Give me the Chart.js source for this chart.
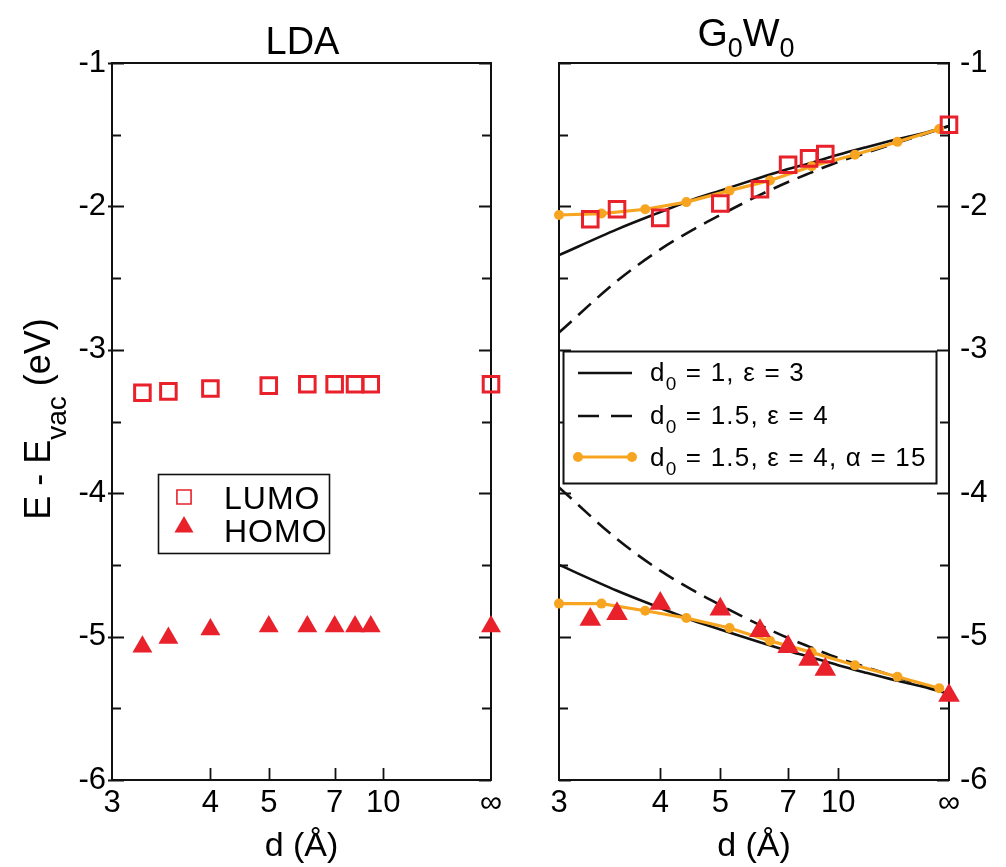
<!DOCTYPE html>
<html>
<head>
<meta charset="utf-8">
<title>LDA vs G0W0 level alignment</title>
<script src="https://cdn.jsdelivr.net/npm/chart.js@4.4.1/dist/chart.umd.min.js"></script>
<style>
  html, body { margin: 0; padding: 0; background: #ffffff; }
  #wrap { position: relative; width: 1006px; height: 867px; overflow: hidden; }
  #lda { position: absolute; left: 0; top: 0; }
  #gw  { position: absolute; left: 530px; top: 0; }
</style>
</head>
<body>
<div id="wrap">
  <canvas id="lda" width="530" height="867"></canvas>
  <canvas id="gw" width="476" height="867"></canvas>
</div>
<script>
// ---- tick positions along d (Å) ----
const tickD = [3, 4, 5, 7, 10, Infinity];
const tickLabels = ['3', '4', '5', '7', '10', '\u221E'];

// ---- computed levels at each separation d ----
const dLayers = [3.25, 3.5, 4, 5, 6, 7, 8, 9, Infinity];
const ldaLumo = [-3.30, -3.29, -3.27, -3.25, -3.24, -3.24, -3.24, -3.24, -3.24];
const ldaHomo = [-5.07, -5.01, -4.95, -4.93, -4.93, -4.93, -4.93, -4.93, -4.93];
const gwLumo  = [-2.09, -2.02, -2.08, -1.98, -1.88, -1.71, -1.665, -1.635, -1.43];
const gwHomo  = [-4.88, -4.84, -4.77, -4.81, -4.96, -5.07, -5.16, -5.23, -5.41];

// ---- image-charge model curves ----
const dModel    = [3, 3.5, 4, 4.5, 5, 6, 7, 8, 10, 13, 20, 40, Infinity];
const solidLumo = [-2.34, -2.16, -2.04, -1.95, -1.89, -1.80, -1.74, -1.70, -1.64, -1.59, -1.535, -1.49, -1.44];
const solidHomo = [-4.50, -4.68, -4.80, -4.89, -4.95, -5.04, -5.10, -5.14, -5.20, -5.25, -5.305, -5.35, -5.40];
const dashLumo  = [-2.88, -2.52, -2.30, -2.16, -2.06, -1.92, -1.83, -1.77, -1.69, -1.63, -1.56, -1.50, -1.44];
const dashHomo  = [-3.96, -4.32, -4.54, -4.68, -4.78, -4.92, -5.01, -5.07, -5.15, -5.21, -5.28, -5.34, -5.40];

// ---- model with polarisability alpha ----
const dAlpha    = [3, 3.35, 3.81, 4.38, 5.2, 6.32, 8.15, 11.7, 20.8, 102];
const alphaLumo = [-2.06, -2.05, -2.02, -1.97, -1.89, -1.82, -1.72, -1.64, -1.55, -1.46];
const alphaHomo = [-4.77, -4.77, -4.82, -4.87, -4.94, -5.03, -5.11, -5.20, -5.28, -5.36];

const FONT = '"Liberation Sans", Arial, Helvetica, sans-serif';
const RED = '#e8212b';
const ORANGE = '#f7a520';
const INK = '#111111';
const DASH = [17, 9];

// horizontal coordinate: inverse-separation axis, 0 at d = 3 Å and 1 at d = ∞
function xOf(d) { return d === Infinity ? 1 : 1 - Math.pow(3 / d, 1.045); }
function pts(ds, vs) { return ds.map((d, i) => ({ x: xOf(d), y: vs[i] })); }

// text with sub-scripted pieces
function richWidth(ctx, parts) {
  let w = 0;
  parts.forEach(p => { ctx.font = p.size + 'px ' + FONT; w += ctx.measureText(p.t).width; });
  return w;
}
function drawRich(ctx, parts, x, y, align) {
  let cx = align === 'center' ? x - richWidth(ctx, parts) / 2 : x;
  ctx.textAlign = 'left';
  ctx.textBaseline = 'alphabetic';
  parts.forEach(p => {
    ctx.font = p.size + 'px ' + FONT;
    ctx.fillText(p.t, cx, y + (p.dy || 0));
    cx += ctx.measureText(p.t).width;
  });
}

// frame around the plot area plus inward ticks
const framePlugin = {
  id: 'frame',
  beforeDatasetsDraw(chart, args, opts) {
    const { ctx, chartArea: a, scales: { x, y } } = chart;
    ctx.save();
    ctx.strokeStyle = INK;
    ctx.lineWidth = 2;
    ctx.strokeRect(a.left, a.top, a.right - a.left, a.bottom - a.top);
    ctx.lineWidth = 1.8;
    ctx.beginPath();
    for (let v = -6; v <= -1; v += 0.5) {
      const py = Math.round(y.getPixelForValue(v)) + 0.5;
      const major = Number.isInteger(v);
      const len = major ? 12 : 9;
      ctx.moveTo(a.left - (opts.outer && major ? 4 : 0), py);
      ctx.lineTo(a.left + len, py);
      ctx.moveTo(a.right, py);
      ctx.lineTo(a.right - len, py);
    }
    tickD.slice(1, -1).forEach(d => {
      const px = Math.round(x.getPixelForValue(xOf(d))) + 0.5;
      ctx.moveTo(px, a.bottom);
      ctx.lineTo(px, a.bottom - 12);
    });
    ctx.stroke();
    ctx.restore();
  }
};

function axes(side, yWidth) {
  return {
    x: {
      type: 'linear', min: 0, max: 1,
      afterBuildTicks: s => { s.ticks = tickD.map(d => ({ value: xOf(d) })); },
      afterFit: s => { s.height = 87; },
      grid: { display: false, drawTicks: false },
      border: { display: false },
      ticks: {
        autoSkip: false, maxRotation: 0, color: '#000', padding: 5,
        font: { family: FONT, size: 31 },
        callback: (v, i) => tickLabels[i]
      },
      title: {
        display: true, text: 'd (\u00C5)', color: '#000',
        font: { family: FONT, size: 34 }, padding: { top: 0, bottom: 0 }
      }
    },
    y: {
      type: 'linear', min: -6, max: -1, position: side,
      afterFit: s => { s.width = yWidth; },
      grid: { display: false, drawTicks: false },
      border: { display: false },
      ticks: {
        stepSize: 1, color: '#000', padding: side === 'left' ? 6 : 11,
        font: { family: FONT, size: 31 }
      }
    }
  };
}

function markerSets(lumo, homo, triR) {
  return [
    {
      label: 'LUMO', data: pts(dLayers, lumo), showLine: false, clip: false,
      pointStyle: 'rect', pointRadius: 11, pointBorderWidth: 3,
      pointBorderColor: RED, pointBackgroundColor: 'rgba(0,0,0,0)'
    },
    {
      label: 'HOMO', data: pts(dLayers, homo), showLine: false, clip: false,
      pointStyle: 'triangle', pointRadius: triR, pointBorderWidth: 0,
      pointBorderColor: RED, pointBackgroundColor: RED
    }
  ];
}

const common = {
  responsive: false,
  animation: false,
  events: [],
  plugins: { legend: { display: false }, tooltip: { enabled: false } }
};

// ---------------- left panel: LDA ----------------
const ldaText = {
  id: 'ldaText',
  afterDraw(chart) {
    const { ctx, chartArea: a } = chart;
    ctx.save();
    ctx.fillStyle = '#000';
    drawRich(ctx, [{ t: 'LDA', size: 38 }], (a.left + a.right) / 2 + 1, 54, 'center');
    // vertical axis label
    ctx.save();
    ctx.translate(50, 419);
    ctx.rotate(-Math.PI / 2);
    drawRich(ctx, [
      { t: 'E - E', size: 36 },
      { t: 'vac', size: 28, dy: 16 },
      { t: ' (eV)', size: 36 }
    ], 0, 0, 'center');
    ctx.restore();
    // legend
    ctx.lineWidth = 1.6;
    ctx.strokeStyle = INK;
    ctx.fillStyle = '#fff';
    ctx.fillRect(158, 474, 171, 79);
    ctx.strokeRect(158.5, 474.5, 171, 79);
    ctx.strokeStyle = RED;
    Chart.helpers.drawPoint(ctx, { pointStyle: 'rect', radius: 10, borderWidth: 3, rotation: 0 }, 184, 497);
    ctx.fillStyle = RED;
    Chart.helpers.drawPoint(ctx, { pointStyle: 'triangle', radius: 11, borderWidth: 0, rotation: 0 }, 184, 527);
    ctx.fillStyle = '#000';
    if ('letterSpacing' in ctx) ctx.letterSpacing = '1px';
    drawRich(ctx, [{ t: 'LUMO', size: 32 }], 224, 509);
    drawRich(ctx, [{ t: 'HOMO', size: 32 }], 224, 542);
    ctx.restore();
  }
};

new Chart(document.getElementById('lda'), {
  type: 'scatter',
  data: { datasets: markerSets(ldaLumo, ldaHomo, 11.5) },
  options: Object.assign({}, common, {
    layout: { padding: { left: 0, top: 63, right: 39, bottom: 0 } },
    scales: axes('left', 112),
    plugins: Object.assign({}, common.plugins, { frame: { outer: true } })
  }),
  plugins: [framePlugin, ldaText]
});

// ---------------- right panel: G0W0 ----------------
const gwText = {
  id: 'gwText',
  afterDatasetsDraw(chart) {
    const ctx = chart.ctx;
    ctx.save();
    // legend box
    ctx.fillStyle = '#fff';
    ctx.fillRect(33, 351, 373, 132);
    ctx.strokeStyle = INK;
    ctx.lineWidth = 2;
    ctx.strokeRect(33.5, 351.5, 373, 132);
    const rows = [373, 416, 457];
    ctx.lineWidth = 2.6;
    ctx.beginPath(); ctx.moveTo(48, rows[0]); ctx.lineTo(102, rows[0]); ctx.stroke();
    ctx.setLineDash([21, 12]);
    ctx.lineDashOffset = 0;
    ctx.beginPath(); ctx.moveTo(48, rows[1]); ctx.lineTo(102, rows[1]); ctx.stroke();
    ctx.setLineDash([]);
    ctx.strokeStyle = ORANGE;
    ctx.lineWidth = 3;
    ctx.beginPath(); ctx.moveTo(48, rows[2]); ctx.lineTo(102, rows[2]); ctx.stroke();
    ctx.fillStyle = ORANGE;
    [48, 102].forEach(px => Chart.helpers.drawPoint(ctx, { pointStyle: 'circle', radius: 5, borderWidth: 0 }, px, rows[2]));
    ctx.fillStyle = '#000';
    if ('letterSpacing' in ctx) ctx.letterSpacing = '1.2px';
    const sub = { t: '0', size: 19, dy: 9 };
    drawRich(ctx, [{ t: 'd', size: 26 }, sub, { t: ' = 1, \u03B5 = 3', size: 26 }], 120, 381);
    drawRich(ctx, [{ t: 'd', size: 26 }, sub, { t: ' = 1.5, \u03B5 = 4', size: 26 }], 120, 424);
    drawRich(ctx, [{ t: 'd', size: 26 }, sub, { t: ' = 1.5, \u03B5 = 4, \u03B1 = 15', size: 26 }], 120, 466);
    ctx.restore();
  },
  afterDraw(chart) {
    const ctx = chart.ctx;
    ctx.save();
    ctx.fillStyle = '#000';
    drawRich(ctx, [
      { t: 'G', size: 39 }, { t: '0', size: 27, dy: 11 },
      { t: 'W', size: 39 }, { t: '0', size: 27, dy: 11 }
    ], 216, 46, 'center');
    ctx.restore();
  }
};

function curve(ds, vs, dash) {
  return {
    data: pts(ds, vs), showLine: true, clip: false,
    borderColor: INK, borderWidth: 2.6, borderDash: dash,
    cubicInterpolationMode: 'monotone', pointRadius: 0
  };
}
function alphaCurve(vs) {
  return {
    data: pts(dAlpha, vs), showLine: true, clip: false,
    borderColor: ORANGE, borderWidth: 3.2, tension: 0,
    pointRadius: 5, pointBorderWidth: 0, pointBackgroundColor: ORANGE, pointBorderColor: ORANGE
  };
}

new Chart(document.getElementById('gw'), {
  type: 'scatter',
  data: {
    datasets: markerSets(gwLumo, gwHomo, 12.5).concat([
      alphaCurve(alphaLumo),
      alphaCurve(alphaHomo),
      curve(dModel, solidLumo, []),
      curve(dModel, solidHomo, []),
      curve(dModel, dashLumo, DASH),
      curve(dModel, dashHomo, DASH)
    ])
  },
  options: Object.assign({}, common, {
    layout: { padding: { left: 29, top: 63, right: 0, bottom: 0 } },
    scales: axes('right', 57),
    plugins: Object.assign({}, common.plugins, { frame: { outer: false } })
  }),
  plugins: [framePlugin, gwText]
});
</script>
</body>
</html>
